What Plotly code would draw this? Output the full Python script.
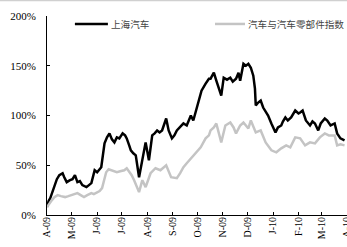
import plotly.graph_objects as go

# 上海汽车 (black)
shqc_dates = ["2009-04-01","2009-04-03","2009-04-05","2009-04-08","2009-04-10","2009-04-13","2009-04-16","2009-04-20",
              "2009-04-22","2009-04-25","2009-04-29","2009-05-02","2009-05-05","2009-05-08","2009-05-11","2009-05-14",
              "2009-05-19","2009-05-22","2009-05-25","2009-05-29","2009-06-01","2009-06-04","2009-06-06","2009-06-10",
              "2009-06-13","2009-06-16","2009-06-19","2009-06-22","2009-06-25","2009-06-28","2009-07-02","2009-07-05",
              "2009-07-07","2009-07-10","2009-07-12","2009-07-15","2009-07-18","2009-07-22","2009-07-26","2009-07-30",
              "2009-08-03","2009-08-07","2009-08-10","2009-08-13","2009-08-16","2009-08-19","2009-08-24","2009-08-27",
              "2009-08-31","2009-09-03","2009-09-06","2009-09-10","2009-09-14","2009-09-18","2009-09-23","2009-09-26",
              "2009-09-30","2009-10-03","2009-10-06","2009-10-11","2009-10-15","2009-10-17","2009-10-21","2009-10-24",
              "2009-10-27","2009-10-30","2009-11-02","2009-11-06","2009-11-10","2009-11-13","2009-11-17","2009-11-20",
              "2009-11-22","2009-11-26","2009-11-29","2009-12-02","2009-12-05","2009-12-08","2009-12-10","2009-12-11",
              "2009-12-14","2009-12-17","2009-12-20","2009-12-22","2009-12-26","2009-12-30","2010-01-04","2010-01-07",
              "2010-01-11","2010-01-13","2010-01-16","2010-01-19","2010-01-23","2010-01-28","2010-02-01","2010-02-03",
              "2010-02-06","2010-02-10","2010-02-15","2010-02-18","2010-02-21","2010-02-25","2010-02-28","2010-03-05",
              "2010-03-08","2010-03-12","2010-03-17","2010-03-20","2010-03-24","2010-03-29"]
shqc_values = [8, 14, 17, 24, 30, 36, 40, 42,
               38, 33, 35, 36, 40, 33, 34, 30,
               28, 30, 32, 45, 43, 46, 48, 72,
               78, 82, 76, 73, 78, 77, 82, 80,
               77, 70, 65, 62, 60, 38, 55, 73,
               55, 80, 82, 85, 83, 85, 97, 85,
               77, 80, 85, 88, 92, 90, 100, 95,
               108, 116, 125, 132, 137, 137, 143, 135,
               128, 120, 138, 136, 138, 134, 137, 143,
               135, 152, 150, 152, 148, 140, 127, 110,
               113, 115, 108, 105, 100, 92, 83, 88,
               90, 94, 98, 95, 98, 105, 102, 103,
               105, 95, 90, 94, 92, 85, 92, 97,
               95, 90, 92, 82, 77, 75]

# 汽车与汽车零部件指数 (grey)
index_dates = ["2009-04-01","2009-04-04","2009-04-07","2009-04-10","2009-04-14","2009-04-18","2009-04-23","2009-04-27",
               "2009-05-01","2009-05-05","2009-05-08","2009-05-12","2009-05-16","2009-05-20","2009-05-25","2009-05-28",
               "2009-06-01","2009-06-04","2009-06-07","2009-06-12","2009-06-15","2009-06-18","2009-06-21","2009-06-25",
               "2009-06-29","2009-07-04","2009-07-07","2009-07-09","2009-07-13","2009-07-16","2009-07-22","2009-07-26",
               "2009-07-30","2009-08-05","2009-08-11","2009-08-17","2009-08-24","2009-08-30","2009-09-06","2009-09-10",
               "2009-09-14","2009-09-18","2009-09-23","2009-09-29","2009-10-05","2009-10-11","2009-10-15","2009-10-17",
               "2009-10-21","2009-10-24","2009-10-30","2009-11-04","2009-11-10","2009-11-14","2009-11-17","2009-11-22",
               "2009-11-26","2009-12-02","2009-12-05","2009-12-11","2009-12-17","2009-12-23","2009-12-30","2010-01-05",
               "2010-01-11","2010-01-17","2010-01-22","2010-01-28","2010-02-03","2010-02-09","2010-02-15","2010-02-21",
               "2010-02-27","2010-03-05","2010-03-10","2010-03-17","2010-03-20","2010-03-24","2010-03-29"]
index_values = [8, 12, 15, 18, 20, 19, 18, 19,
                20, 21, 22, 20, 18, 20, 22, 21,
                23, 24, 27, 43, 46, 45, 44, 43,
                44, 45, 47, 45, 40, 35, 23, 35,
                28, 42, 47, 45, 50, 38, 37, 42,
                48, 52, 57, 62, 68, 77, 80, 85,
                88, 92, 73, 90, 93, 88, 82, 90,
                93, 87, 95, 83, 85, 73, 65, 63,
                67, 70, 68, 78, 77, 70, 73, 72,
                78, 82, 80, 80, 70, 71, 70]

series_names = ["上海汽车", "汽车与汽车零部件指数"]
series_colors = ["#000000", "#c4c4c4"]

tick_dates = ["2009-04-01","2009-05-01","2009-06-01","2009-07-01","2009-08-01","2009-09-01","2009-10-01",
              "2009-11-01","2009-12-01","2010-01-01","2010-02-01","2010-03-01","2010-04-01"]
tick_labels = ["A-09","M-09","J-09","J-09","A-09","S-09","O-09","N-09","D-09","J-10","F-10","M-10","A-10"]
y_ticks = [0, 50, 100, 150, 200]

fig = go.Figure()
fig.add_trace(go.Scatter(x=shqc_dates, y=shqc_values, mode="lines", name=series_names[0],
                         line=dict(color=series_colors[0], width=2.5)))
fig.add_trace(go.Scatter(x=index_dates, y=index_values, mode="lines", name=series_names[1],
                         line=dict(color=series_colors[1], width=2.5)))

# hand-built legend (line sample + label), in paper coordinates
legend_line_x = [(0.093, 0.203), (0.56, 0.66)]
legend_text_x = [0.207, 0.663]
legend_y = 0.96
shapes = [dict(type="line", xref="paper", yref="paper", x0=-0.16, x1=1.0, y0=1.078, y1=1.078,
               line=dict(color="#d0d0d0", width=1.5))]
annotations = []
for name, color, (lx0, lx1), tx in zip(series_names, series_colors, legend_line_x, legend_text_x):
    shapes.append(dict(type="line", xref="paper", yref="paper", x0=lx0, x1=lx1, y0=legend_y, y1=legend_y,
                       line=dict(color=color, width=2.5)))
    annotations.append(dict(xref="paper", yref="paper", x=tx, y=legend_y, text=name, showarrow=False,
                            xanchor="left", yanchor="middle",
                            font=dict(family="Noto Sans CJK SC", size=9.6, color="#444444")))

fig.update_layout(
    width=347, height=247,
    margin=dict(l=47, r=0, t=16, b=32, autoexpand=False),
    paper_bgcolor="white", plot_bgcolor="white",
    showlegend=False,
    shapes=shapes, annotations=annotations,
)
fig.update_xaxes(
    type="date", range=["2009-04-01", "2010-04-01"],
    tickvals=tick_dates, ticktext=tick_labels, tickangle=-90,
    ticks="inside", ticklen=3, tickcolor="#000000",
    showline=True, linecolor="#000000", linewidth=1,
    showgrid=False, zeroline=False, ticklabelstandoff=-3, ticklabeloverflow="allow",
    tickfont=dict(family="Liberation Serif", size=10, color="#000000"),
)
fig.update_yaxes(
    range=[0, 200], tickvals=y_ticks, ticktext=[f"{v}%" for v in y_ticks],
    ticks="inside", ticklen=3, tickcolor="#000000",
    showline=True, linecolor="#000000", linewidth=1,
    showgrid=False, zeroline=False, ticklabelstandoff=8,
    tickfont=dict(family="Liberation Serif", size=11, color="#000000"),
)

fig.write_html("out.html", config={"displayModeBar": False},
               post_script="document.body.style.margin='0';document.body.style.overflow='hidden';")
